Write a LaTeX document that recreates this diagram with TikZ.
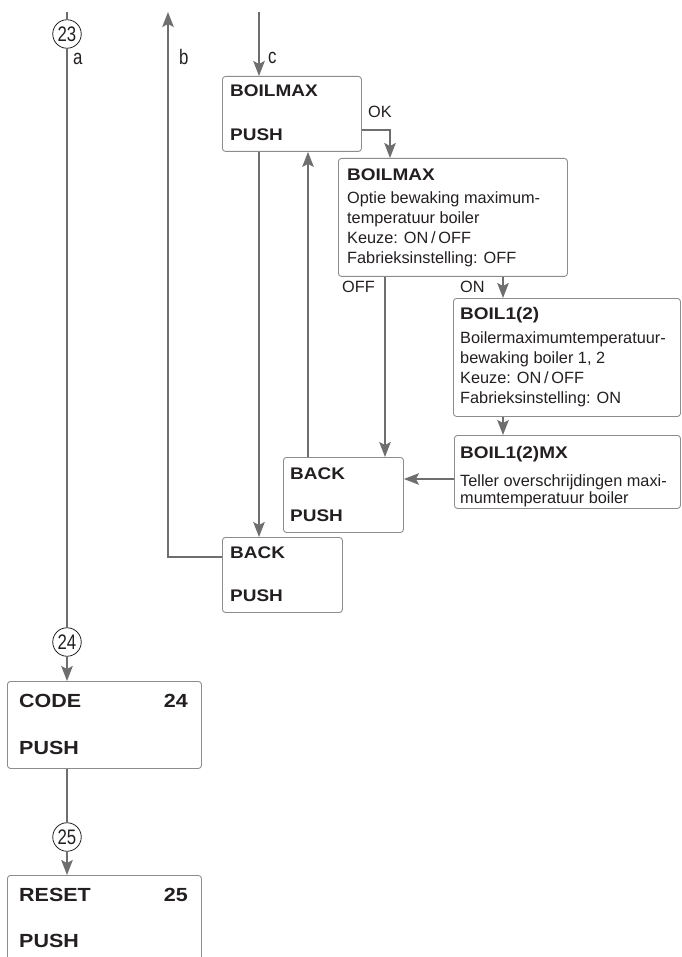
\documentclass[tikz,border=0pt]{standalone}
\usepackage{fontspec}
\setmainfont{Liberation Sans}
\newfontfamily\hdfont{Liberation Sans}[FakeStretch=1.13]
\newfontfamily\condfont{Liberation Sans}[FakeStretch=0.8]
\usetikzlibrary{arrows.meta,calc}
\definecolor{linegray}{HTML}{6E6E6E}
\definecolor{boxgray}{HTML}{8C8C8C}
\definecolor{txt}{HTML}{231F20}
\tikzset{
  box/.style={draw=boxgray, line width=0.9pt, rounded corners=3pt, inner sep=0pt, anchor=north west},
  conn/.style={draw=linegray, line width=1.7pt},
  arr/.style={conn, -{Stealth[width=11.5pt,length=15pt,inset=3pt]}},
  numcirc/.style={circle, draw=txt, line width=0.8pt, minimum size=28.5pt, inner sep=0pt, font=\condfont\fontsize{21}{22}\selectfont, text=txt},
  tbold/.style={font=\hdfont\bfseries\fontsize{16.8}{20}\selectfont, inner sep=0pt, anchor=base west, text=txt},
  tbig/.style={font=\hdfont\bfseries\fontsize{19}{22}\selectfont, inner sep=0pt, anchor=base west, text=txt},
  treg/.style={font=\fontsize{16.3}{20}\selectfont, inner sep=0pt, anchor=base west, text=txt},
  tlab/.style={font=\condfont\fontsize{21}{22}\selectfont, inner sep=0pt, anchor=base west, text=txt},
}
\begin{document}
\begin{tikzpicture}[x=1pt,y=-1pt]
\useasboundingbox (0,0) rectangle (681,957);

% boxes
\node[box, minimum width=139pt, minimum height=75pt] (b1) at (222,76) {};
\node[box, minimum width=229pt, minimum height=118pt] (b2) at (338,158) {};
\node[box, minimum width=227pt, minimum height=118pt] (b3) at (453,298) {};
\node[box, minimum width=226pt, minimum height=73pt] (b4) at (454,435) {};
\node[box, minimum width=120pt, minimum height=75pt] (back1) at (283,457) {};
\node[box, minimum width=120pt, minimum height=75pt] (back2) at (222,537) {};
\node[box, minimum width=194pt, minimum height=87pt] (code) at (7,681) {};
\node[box, minimum width=194pt, minimum height=100pt] (reset) at (7,875) {};

% circles
\node[numcirc] (c23) at (67,34) {23};
\node[numcirc] (c24) at (67,642) {24};
\node[numcirc] (c25) at (67,837) {25};

% texts
\node[tbold] (b1t1) at (230,97) {BOILMAX};
\node[tbold] (b1t2) at (230,141) {PUSH};

\node[tbold] (b2t1) at (347,181) {BOILMAX};
\node[treg] (b2t2) at (347,204) {Optie bewaking maximum-};
\node[treg] (b2t3) at (347,224) {temperatuur boiler};
\node[treg] (b2t4) at (347,244) {Keuze: ON\,/\,OFF};
\node[treg] (b2t5) at (347,264) {Fabrieksinstelling: OFF};

\node[tbold] (b3t1) at (460,319) {BOIL1(2)};
\node[treg] (b3t2) at (460,343) {Boilermaximumtemperatuur-};
\node[treg] (b3t3) at (460,363) {bewaking boiler 1, 2};
\node[treg] (b3t4) at (460,383) {Keuze: ON\,/\,OFF};
\node[treg] (b3t5) at (460,403) {Fabrieksinstelling: ON};

\node[tbold] (b4t1) at (460,458) {BOIL1(2)MX};
\node[treg] (b4t2) at (460,486) {Teller overschrijdingen maxi-};
\node[treg] (b4t3) at (460,503) {mumtemperatuur boiler};

\node[tbold] (bk1t1) at (290,479) {BACK};
\node[tbold] (bk1t2) at (290,521) {PUSH};
\node[tbold] (bk2t1) at (230,558) {BACK};
\node[tbold] (bk2t2) at (230,601) {PUSH};

\node[tbig] (cdt1) at (19,707) {CODE};
\node[tbig, anchor=base east] (cdt2) at (188,707) {24};
\node[tbig] (cdt3) at (19,754) {PUSH};
\node[tbig] (rst1) at (19,901) {RESET};
\node[tbig, anchor=base east] (rst2) at (188,901) {25};
\node[tbig] (rst3) at (19,947) {PUSH};

% labels
\node[tlab] (la) at (73,65) {a};
\node[tlab] (lb) at (179,65) {b};
\node[tlab] (lc) at (268,64) {c};
\node[treg] (lok) at (368,118) {OK};
\node[treg] (loff) at (342,292) {OFF};
\node[treg] (lon) at (460,292) {ON};

% coordinates
\coordinate (ta) at (67,12);
\coordinate (tb) at (168,12);
\coordinate (tc) at (259,12);
\coordinate (xup) at (308,0);
\coordinate (xok) at (390,0);
\coordinate (xoff) at (385,0);
\coordinate (xon) at (503,0);
\coordinate (yok) at (0,130);
\coordinate (yb4) at (0,479);
\coordinate (yb) at (0,557);

% connectors
\draw[conn] (ta) -- (c23.north);
\draw[conn] (c23.south) -- (c24.north);
\draw[arr] (c24.south) -- (code.north -| c24);
\draw[conn] (code.south -| c25) -- (c25.north);
\draw[arr] (c25.south) -- (reset.north -| c25);

\draw[arr] (tc) -- (tc |- b1.north);
\draw[arr] (tc |- b1.south) -- (tc |- back2.north);
\draw[arr] (back2.west |- yb) -- (tb |- yb) -- (tb);
\draw[arr] (xup |- back1.north) -- (xup |- b1.south);
\draw[arr] (b1.east |- yok) -- (xok |- yok) -- (xok |- b2.north);
\draw[arr] (xoff |- b2.south) -- (xoff |- back1.north);
\draw[arr] (xon |- b2.south) -- (xon |- b3.north);
\draw[arr] (xon |- b3.south) -- (xon |- b4.north);
\draw[arr] (b4.west |- yb4) -- (back1.east |- yb4);
\end{tikzpicture}
\end{document}
